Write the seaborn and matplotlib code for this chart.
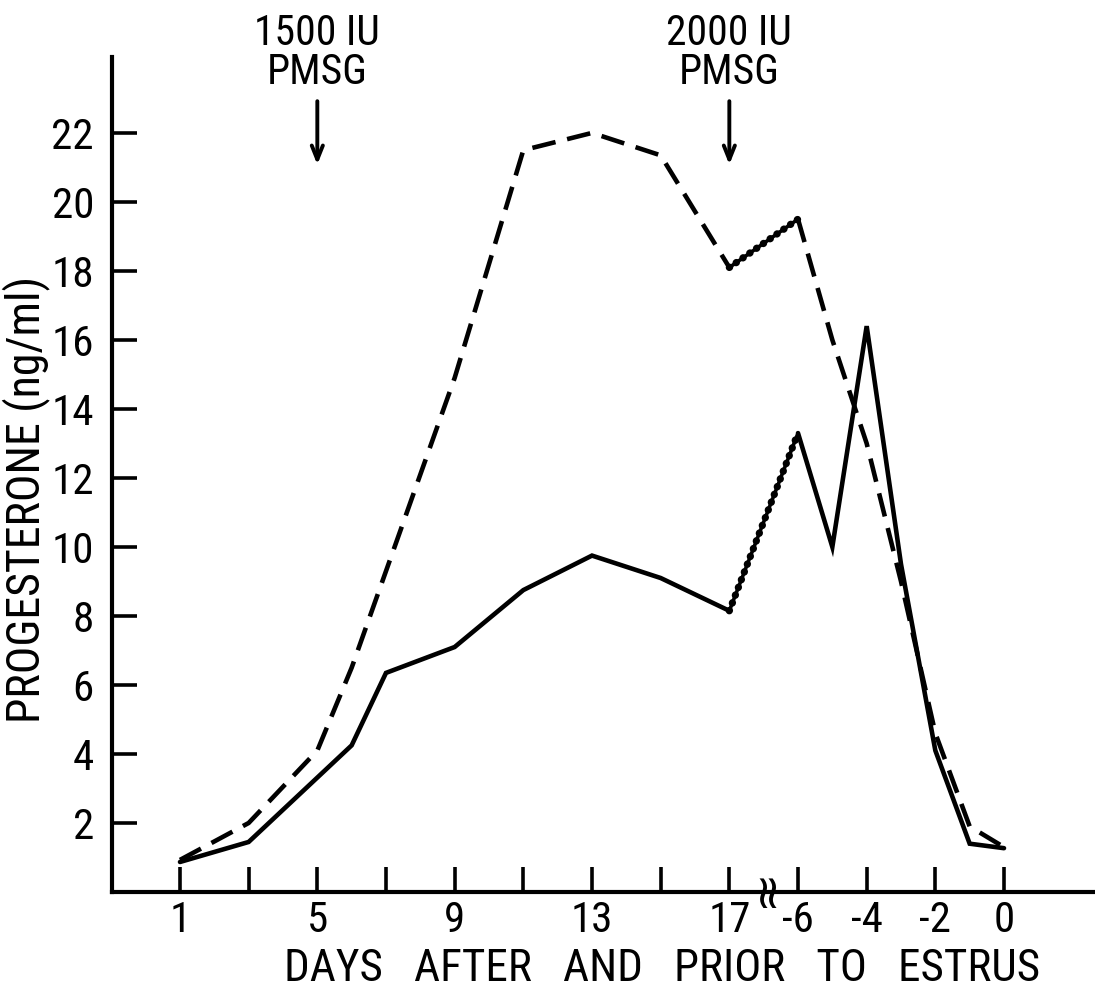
import numpy as np
import pandas as pd
import matplotlib
matplotlib.use("Agg")
import matplotlib.pyplot as plt
import seaborn as sns

# ---- data ----
after_days_solid = [1, 3, 6, 7, 9, 11, 13, 15, 17]
after_vals_solid = [0.87, 1.45, 4.25, 6.35, 7.1, 8.75, 9.75, 9.1, 8.15]
after_days_dash = [1, 3, 5, 6, 7, 9, 11, 13, 15, 17]
after_vals_dash = [0.93, 2.0, 4.1, 6.5, 9.3, 14.9, 21.5, 22.0, 21.35, 18.1]
prior_days = [-6, -5, -4, -3, -2, -1, 0]
prior_vals_solid = [13.3, 10.0, 16.4, 9.5, 4.1, 1.4, 1.27]
prior_vals_dash = [19.5, 16.0, 13.0, 9.0, 4.6, 1.9, 1.3]

x_tick_labels = ["1", "", "5", "", "9", "", "13", "", "17", "-6", "-4", "-2", "0"]
y_ticks = [2, 4, 6, 8, 10, 12, 14, 16, 18, 20, 22]
injections = [(5, "1500 IU\nPMSG"), (17, "2000 IU\nPMSG")]

PRIOR_OFFSET = 25  # axis position of day 0 of the "prior" segment (break after day 17)

def pos_prior(d):
    return [v + PRIOR_OFFSET for v in d]

sns.set_style("ticks")
FONT = ["Roboto Condensed", "DejaVu Sans"]
plt.rcParams["font.family"] = FONT
plt.rcParams["text.color"] = "black"
plt.rcParams["axes.labelcolor"] = "black"

fig = plt.figure(figsize=(10.95, 9.92), dpi=100)
ax = fig.add_axes([112 / 1095, 100 / 992, (1095 - 112) / 1095, (892 - 57) / 992])

LW = 3.3
dash_style = (0, (5.2, 2.6))

df_solid_a = pd.DataFrame({"x": after_days_solid, "y": after_vals_solid})
df_solid_p = pd.DataFrame({"x": pos_prior(prior_days), "y": prior_vals_solid})
df_dash_a = pd.DataFrame({"x": after_days_dash, "y": after_vals_dash})
df_dash_p = pd.DataFrame({"x": pos_prior(prior_days), "y": prior_vals_dash})

for df in (df_solid_a, df_solid_p):
    sns.lineplot(data=df, x="x", y="y", ax=ax, color="black", linewidth=LW,
                 errorbar=None, solid_joinstyle="miter")
for df in (df_dash_a, df_dash_p):
    sns.lineplot(data=df, x="x", y="y", ax=ax, color="black", linewidth=LW,
                 errorbar=None, linestyle=dash_style, dash_capstyle="butt")

# wavy connecting segments across the break
for va, vp in ((after_vals_solid[-1], prior_vals_solid[0]),
               (after_vals_dash[-1], prior_vals_dash[0])):
    dfw = pd.DataFrame({"x": [after_days_solid[-1], prior_days[0] + PRIOR_OFFSET],
                        "y": [va, vp]})
    sns.lineplot(data=dfw, x="x", y="y", ax=ax, color="black", linewidth=2.6,
                 errorbar=None)
    sns.lineplot(data=dfw, x="x", y="y", ax=ax, color="black", linewidth=5.2,
                 errorbar=None, linestyle=(0, (0.05, 1.1)), dash_capstyle="round")

ax.set_xlim(-0.98, 27.65)
ax.set_ylim(0, 24.2)

xt = list(range(1, 18, 2)) + [19, 21, 23, 25]
ax.set_xticks(xt)
ax.set_xticklabels(x_tick_labels)
ax.set_yticks(y_ticks)
ax.set_yticklabels([str(v) for v in y_ticks])

ax.tick_params(axis="both", direction="in", length=18, width=2.6, colors="black",
               labelsize=31)
ax.tick_params(axis="y", pad=13)
ax.tick_params(axis="x", pad=6)
for lab in ax.get_xticklabels() + ax.get_yticklabels():
    lab.set_family(FONT)

sns.despine(ax=ax)
for s in ("left", "bottom"):
    ax.spines[s].set_linewidth(3.0)
    ax.spines[s].set_color("black")

ax.set_xlabel("DAYS   AFTER   AND   PRIOR   TO   ESTRUS", fontsize=32.5, family=FONT)
ax.xaxis.set_label_coords(0.56, -0.067)
ax.set_ylabel("PROGESTERONE (ng/ml)", fontsize=33, family=FONT)
ax.yaxis.set_label_coords(-0.063, 0.47)

# break symbol on the x axis
ax.text(18.1, 0.15, "\u2248", rotation=90, ha="center", va="center", fontsize=34,
        family=["DejaVu Sans"], clip_on=False)

# injection annotations
for xd, label in injections:
    ax.annotate("", xy=(xd, 21.0), xytext=(xd, 23.0), annotation_clip=False,
                arrowprops=dict(arrowstyle="->,head_length=1.0,head_width=0.4",
                                lw=2.8, color="black"))
    ax.text(xd, 23.15, label, ha="center", va="bottom", fontsize=30,
            linespacing=0.95, family=FONT, clip_on=False)

fig.savefig("out.png", dpi=100)
